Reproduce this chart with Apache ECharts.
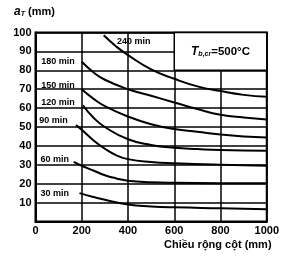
<!DOCTYPE html>
<html>
<head>
<meta charset="utf-8">
<script src="https://cdn.jsdelivr.net/npm/echarts@6/dist/echarts.min.js"></script>
<style>
  body { margin: 0; background: #fff; }
  #chart { width: 282px; height: 256px; }
</style>
</head>
<body>
<div id="chart"></div>
<script>
// column width (mm) and axis distance a_T (mm)
const w30 = [190, 250, 300, 400, 500, 600, 800, 1000];
const a30 = [15, 13, 11.5, 9, 8, 7.5, 7, 6.5];
const w60 = [165, 200, 250, 300, 350, 400, 500, 600, 800, 1000];
const a60 = [31.5, 29.5, 27, 24.5, 22.8, 21.6, 20.8, 20.5, 20.3, 20.2];
const w90 = [175, 200, 250, 300, 350, 400, 500, 600, 800, 1000];
const a90 = [51, 48.5, 43, 38.5, 35, 33, 31.5, 30.8, 30, 29.5];
const w120 = [205, 250, 300, 400, 500, 600, 700, 800, 1000];
const a120 = [61.5, 55, 50, 43.5, 40.5, 39, 38.3, 37.8, 37.5];
const w150 = [200, 250, 300, 400, 500, 600, 700, 800, 900, 1000];
const a150 = [70, 65, 61, 55.5, 51.5, 49, 47.5, 46, 45, 44.5];
const w180 = [200, 250, 300, 400, 500, 600, 700, 800, 900, 1000];
const a180 = [84.5, 79, 75, 70, 66.5, 63, 59.5, 56.5, 55, 54];
const w240 = [295, 350, 400, 500, 600, 700, 800, 900, 1000];
const a240 = [98.5, 92.5, 88, 80.5, 75.5, 71.5, 69, 67, 66];

const curveNames = ["30 min", "60 min", "90 min", "120 min", "150 min", "180 min", "240 min"];
const curveW = [w30, w60, w90, w120, w150, w180, w240];
const curveA = [a30, a60, a90, a120, a150, a180, a240];

const xTicks = [0, 200, 400, 600, 800, 1000];
const yTicks = [10, 20, 30, 40, 50, 60, 70, 80, 90, 100];

// where each curve name sits (data coords)
const labelAt = [[22, 14.7], [22, 32.7], [16, 53.3], [25, 63], [25, 72.1], [25, 84.6], [352, 95.2]];

const chart = echarts.init(document.getElementById("chart"));
const font = "'Liberation Sans', Arial, sans-serif";

const series = curveNames.map((name, i) => ({
  name: name,
  type: "line",
  smooth: true,
  symbol: "none",
  lineStyle: { color: "#000", width: 2 },
  data: curveW[i].map((w, j) => [w, curveA[i][j]]),
  z: 3
}));

// box with the temperature note, covers grid lines in that corner
series.push({
  type: "line",
  data: [],
  markArea: {
    silent: true,
    itemStyle: { color: "#fff", borderColor: "#000", borderWidth: 1.5 },
    label: {
      show: true,
      position: "inside",
      fontFamily: font,
      rich: {
        t: { fontSize: 12, fontWeight: "bold", fontStyle: "italic", color: "#000", fontFamily: font },
        s: { fontSize: 7, fontWeight: "bold", fontStyle: "italic", color: "#000", verticalAlign: "bottom", padding: [5, 0, 0, 0], fontFamily: font },
        v: { fontSize: 11.5, fontWeight: "bold", color: "#000", fontFamily: font }
      },
      formatter: "{t|T}{s|b,cr}{v|=500°C}"
    },
    data: [[{ coord: [600, 80] }, { coord: [1000, 100] }]]
  },
  z: 2
});

const option = {
  animation: false,
  grid: {
    left: 35.5, right: 13.3, top: 32.5, bottom: 34.5,
    show: true, borderColor: "#000", borderWidth: 2
  },
  xAxis: {
    type: "value",
    min: 0, max: 1000, interval: 200,
    axisLine: { lineStyle: { color: "#000", width: 2 } },
    axisTick: { show: false },
    splitLine: { lineStyle: { color: "#000", width: 1.5 } },
    axisLabel: {
      color: "#000", fontFamily: font, fontSize: 11, fontWeight: "bold", margin: 4,
      customValues: xTicks,
      formatter: v => String(v)
    }
  },
  yAxis: {
    type: "value",
    min: 0, max: 100, interval: 10,
    axisLine: { lineStyle: { color: "#000", width: 2 } },
    axisTick: { show: false },
    splitLine: { lineStyle: { color: "#000", width: 1.5 } },
    axisLabel: {
      color: "#000", fontFamily: font, fontSize: 11, fontWeight: "bold", margin: 4,
      customValues: yTicks,
      formatter: v => String(v)
    }
  },
  series: series
};
chart.setOption(option);

// curve names and axis titles
const graphics = curveNames.map((name, i) => {
  const p = chart.convertToPixel({ gridIndex: 0 }, labelAt[i]);
  return {
    type: "text", x: p[0], y: p[1], z: 10,
    style: { text: name, fill: "#000", font: "bold 9px " + font, textVerticalAlign: "middle" }
  };
});
graphics.push({
  type: "text", left: 164, top: 239, z: 10,
  style: { text: "Chiều rộng cột (mm)", fill: "#000", font: "bold 11px " + font }
});
graphics.push({
  type: "text", left: 14, top: 6, z: 10,
  style: {
    text: "{a|a}{s|T}{m| (mm)}",
    rich: {
      a: { fontSize: 12, fontWeight: "bold", fontStyle: "italic", fill: "#000", fontFamily: font },
      s: { fontSize: 7, fontWeight: "bold", fontStyle: "italic", fill: "#000", fontFamily: font, verticalAlign: "bottom", padding: [5, 0, 0, 0] },
      m: { fontSize: 11, fontWeight: "bold", fill: "#000", fontFamily: font }
    }
  }
});
chart.setOption({ graphic: graphics });
</script>
</body>
</html>
